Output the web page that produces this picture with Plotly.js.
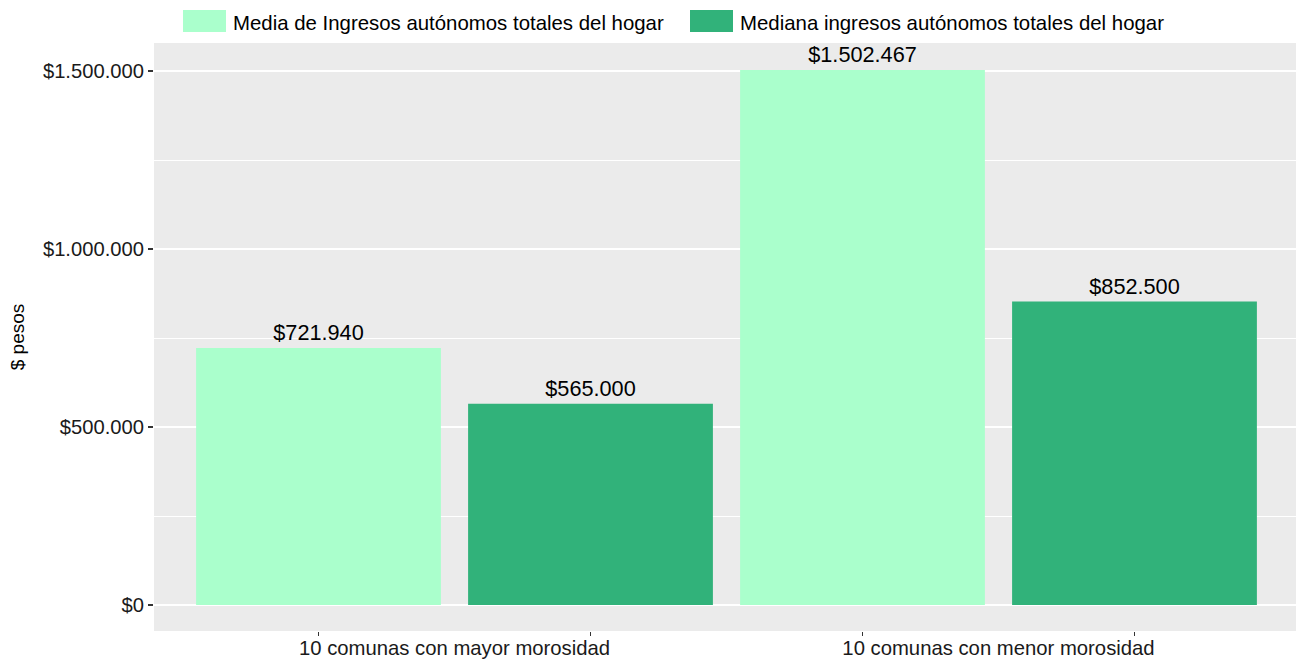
<!DOCTYPE html>
<html>
<head>
<meta charset="utf-8">
<script src="https://cdn.plot.ly/plotly-3.0.1.min.js"></script>
<style>html,body{margin:0;padding:0;background:#fff}#chart{width:1296px;height:660px}</style>
</head>
<body>
<div id="chart"></div>
<script>
// ---- data ----
const categories = ["10 comunas con mayor morosidad", "10 comunas con menor morosidad"];
const seriesNames = ["Media de Ingresos autónomos totales del hogar", "Mediana ingresos autónomos totales del hogar"];
const mediaValues = [721940, 1502467];
const medianaValues = [565000, 852500];
const seriesColors = ["#AAFFCC", "#31B27A"];
const yTickVals = [0, 500000, 1000000, 1500000];

// ---- helpers ----
const fmtPesos = v => '$' + Math.round(v).toString().replace(/\B(?=(\d{3})+(?!\d))/g, '.');

// ---- layout geometry (pixels) ----
const W = 1296, H = 660;
const M = {l: 154, r: 0, t: 43, b: 29};
const pw = W - M.l - M.r, ph = H - M.t - M.b;
const px2x = p => (p - M.l) / pw;
const px2y = p => (H - M.b - p) / ph;

const xRange = [-0.5524, 1.5469];
const yRange = [-73034, 1578651];

const font = "'Liberation Sans', Arial, Helvetica, sans-serif";

function barTrace(name, vals, color) {
  return {
    type: 'bar', name: name, x: categories, y: vals,
    marker: {color: color, line: {width: 0}},
    text: vals.map(fmtPesos), texttemplate: '%{text}', textposition: 'outside',
    textfont: {family: font, size: 21.7, color: '#000'},
    cliponaxis: false, hoverinfo: 'x+y', showlegend: false
  };
}

// tick marks at each bar centre (grouped, two bars per category)
const nSeries = 2;
const barTickPos = [];
categories.forEach((c, i) => {
  for (let s = 0; s < nSeries; s++) barTickPos.push(i - 0.5 + (s + 0.5) / nSeries);
});

const traces = [
  barTrace(seriesNames[0], mediaValues, seriesColors[0]),
  barTrace(seriesNames[1], medianaValues, seriesColors[1]),
  {type: 'scatter', mode: 'markers', x: barTickPos, y: barTickPos.map(() => 0),
   xaxis: 'x2', yaxis: 'y', marker: {opacity: 0}, hoverinfo: 'skip', showlegend: false}
];

// manual legend (wide keys like ggplot)
const legendKeys = [{x0: 183, x1: 226}, {x0: 690, x1: 733}];
const keyY = [10, 32];
const shapes = legendKeys.map((k, i) => ({
  type: 'rect', xref: 'paper', yref: 'paper',
  x0: px2x(k.x0), x1: px2x(k.x1), y0: px2y(keyY[1]), y1: px2y(keyY[0]),
  fillcolor: seriesColors[i], line: {width: 0}
}));
const annotations = legendKeys.map((k, i) => ({
  xref: 'paper', yref: 'paper', x: px2x(k.x1 + 5), y: px2y((keyY[0] + keyY[1]) / 2 + 2),
  xanchor: 'left', yanchor: 'middle', showarrow: false, text: seriesNames[i],
  font: {family: font, size: 20.4, color: '#000'}
}));

const layout = {
  width: W, height: H, margin: M,
  paper_bgcolor: '#fff', plot_bgcolor: '#EBEBEB',
  separators: ',.',
  barmode: 'group', bargap: 0, bargroupgap: 0.1,
  showlegend: false,
  font: {family: font, color: '#000'},
  xaxis: {
    type: 'category', range: xRange, showgrid: false, zeroline: false,
    ticks: '', ticklabelstandoff: 3,
    tickfont: {family: font, size: 20.3, color: '#1a1a1a'}, fixedrange: true
  },
  xaxis2: {
    type: 'linear', overlaying: 'x', anchor: 'y', side: 'bottom', range: xRange,
    tickmode: 'array', tickvals: barTickPos, showticklabels: false,
    ticks: 'outside', ticklen: 4, tickcolor: '#333', tickwidth: 1.2,
    showgrid: false, zeroline: false, showline: false
  },
  yaxis: {
    range: yRange, tickmode: 'array', tickvals: yTickVals,
    ticktext: yTickVals.map(fmtPesos),
    showgrid: true, gridcolor: '#FFFFFF', gridwidth: 2, zeroline: false,
    ticks: 'outside', ticklen: 5, tickcolor: '#333', tickwidth: 1.2,
    tickfont: {family: font, size: 20.2, color: '#1a1a1a'},
    minor: {dtick: 250000, tick0: 0, showgrid: true, gridcolor: '#FFFFFF', gridwidth: 1, ticks: ''},
    title: {text: '$ pesos', standoff: 13, font: {family: font, size: 19, color: '#000'}}
  },
  shapes: shapes, annotations: annotations
};

Plotly.newPlot('chart', traces, layout, {displayModeBar: false, staticPlot: true});
</script>
</body>
</html>
